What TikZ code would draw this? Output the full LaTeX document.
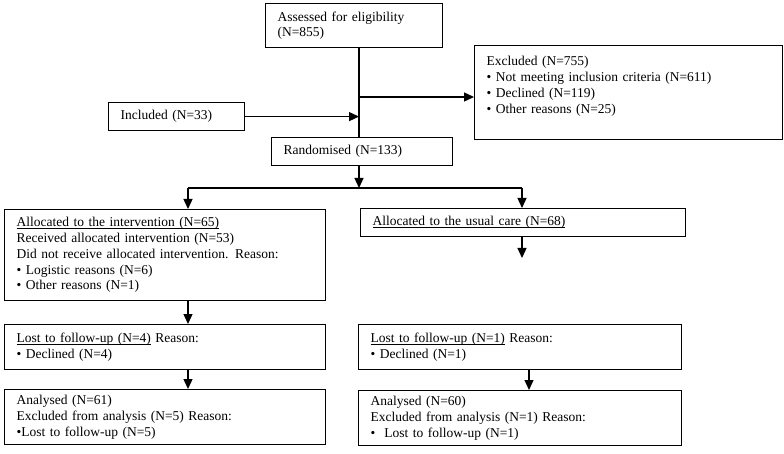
\documentclass[tikz,border=0pt]{standalone}
\usepackage{fontspec}
\setmainfont{Liberation Serif}
\usepackage{tikz}
\usetikzlibrary{arrows.meta}
\tikzstyle{line} = [draw, -{Triangle[length=10pt,width=9pt]}, line width=1.3pt]
\tikzstyle{flowbox} = [draw, line width=1.2pt, anchor=north west, align=left, inner xsep=12pt, inner ysep=0pt]
\newcommand{\ulabel}[1]{\underline{\smash{#1}}\vphantom{(}}

\begin{document}
\begin{tikzpicture}[x=1pt,y=-1pt]
	\tikzstyle{every node}=[font=\fontsize{13.5}{15.8}\selectfont]
	\useasboundingbox (0,0) rectangle (784,454);

	% ------------------- Enrolment ------------------- %
	\node[flowbox, text width=153pt, minimum height=44pt] (assess) at (265,3)
		{Assessed for eligibility\\(N=855)};
	\node[flowbox, text width=284pt, minimum height=94pt] (excl) at (474,45)
		{Excluded (N=755)\\
		\textbullet\ Not meeting inclusion criteria (N=611)\\
		\textbullet\ Declined (N=119)\\
		\textbullet\ Other reasons (N=25)\\ ~};
	\node[flowbox, text width=112pt, minimum height=28pt] (incl) at (108,102)
		{Included (N=33)};
	\node[flowbox, text width=157pt, minimum height=28pt] (rand) at (271,137)
		{Randomised (N=133)};

	% ------------------- Allocation ------------------- %
	\node[flowbox, text width=297pt, minimum height=91pt] (alloci) at (4,209)
		{\ulabel{Allocated to the intervention (N=65)}\\
		Received allocated intervention (N=53)\\
		Did not receive allocated intervention. Reason:\\
		\textbullet\ Logistic reasons (N=6)\\
		\textbullet\ Other reasons (N=1)};
	\node[flowbox, text width=301pt, minimum height=28pt] (allocu) at (360,208)
		{\ulabel{Allocated to the usual care (N=68)}};

	% ------------------- Follow-up ------------------- %
	\node[flowbox, text width=297pt, minimum height=45pt] (lostl) at (4,324)
		{\ulabel{Lost to follow-up (N=4)} Reason:\\
		\textbullet\ Declined (N=4)};
	\node[flowbox, text width=299pt, minimum height=45pt] (lostr) at (358,324)
		{\ulabel{Lost to follow-up (N=1)} Reason:\\
		\textbullet\ Declined (N=1)};

	% ------------------- Analysis ------------------- %
	\node[flowbox, text width=297pt, minimum height=55pt] (anal) at (4,389)
		{Analysed (N=61)\\
		Excluded from analysis (N=5) Reason:\\
		\textbullet Lost to follow-up (N=5)};
	\node[flowbox, text width=299pt, minimum height=55pt] (anar) at (358,390)
		{Analysed (N=60)\\
		Excluded from analysis (N=1) Reason:\\
		\textbullet\ \ Lost to follow-up (N=1)};

	% ------------------- Connectors ------------------- %
	\coordinate (spine) at (359,0);
	\coordinate (lcol) at (188,0);
	\coordinate (rcol) at (522,0);
	\coordinate (rcol2) at (529,0);
	\coordinate (exc) at (359,97);
	\coordinate (split) at (359,188);
	\coordinate (uend) at (522,258);

	\draw[line width=1.3pt] (assess.south -| spine) -- (spine |- rand.north);
	\draw[line] (exc) -- (exc -| excl.west);
	\draw[line] (incl.east) -- (incl.east -| spine);
	\draw[line] (rand.south -| spine) -- (split);
	\draw[line width=1.3pt] (split -| lcol) -- (split -| rcol);
	\draw[line] (split -| lcol) -- (lcol |- alloci.north);
	\draw[line] (split -| rcol) -- (rcol |- allocu.north);
	\draw[line] (lcol |- alloci.south) -- (lcol |- lostl.north);
	\draw[line] (allocu.south -| rcol) -- (uend);
	\draw[line] (lcol |- lostl.south) -- (lcol |- anal.north);
	\draw[line] (rcol2 |- lostr.south) -- (rcol2 |- anar.north);
\end{tikzpicture}
\end{document}
